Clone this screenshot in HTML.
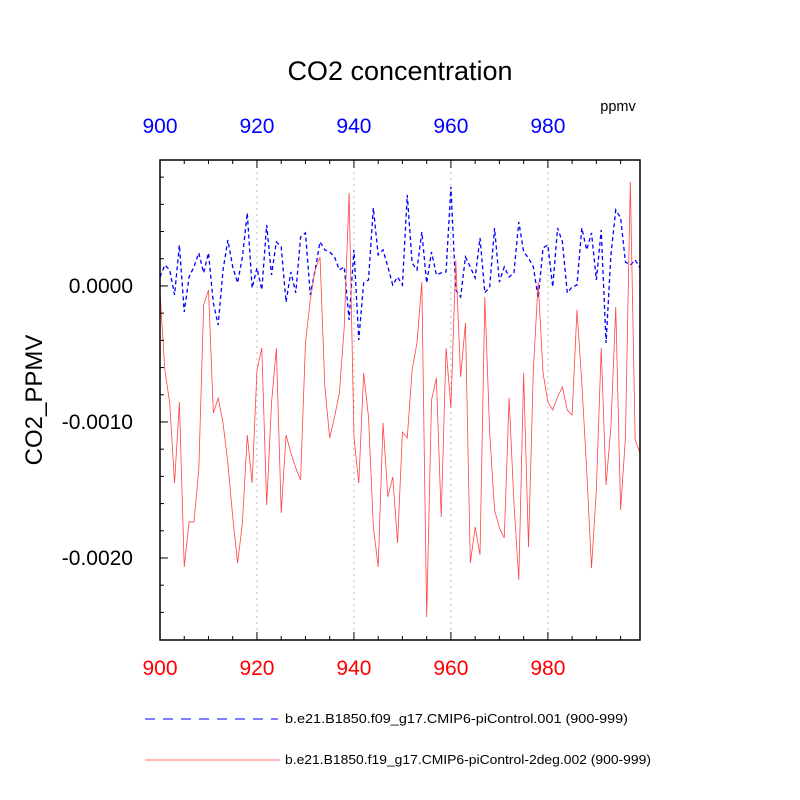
<!DOCTYPE html>
<html><head><meta charset="utf-8"><style>
body{margin:0;background:#fff}
svg{display:block;font-family:"Liberation Sans",sans-serif}
</style></head><body>
<svg id="chart" width="800" height="800">
<text x="400" y="80" text-anchor="middle" font-size="27">CO2 concentration</text>
<text x="618" y="111" text-anchor="middle" font-size="14.5">ppmv</text>
<text transform="translate(42,400) rotate(-90)" text-anchor="middle" font-size="24">CO2_PPMV</text>
<g id="grid"></g><g id="series"></g><g id="axes"></g>
<line x1="145" y1="719" x2="278" y2="719" stroke="#00f" stroke-width="1" stroke-dasharray="10,8"/>
<text x="285" y="723" font-size="13" textLength="343" lengthAdjust="spacingAndGlyphs">b.e21.B1850.f09_g17.CMIP6-piControl.001 (900-999)</text>
<line x1="145" y1="760" x2="280" y2="760" stroke="#f44" stroke-width="0.8"/>
<text x="285" y="764" font-size="13" textLength="366" lengthAdjust="spacingAndGlyphs">b.e21.B1850.f19_g17.CMIP6-piControl-2deg.002 (900-999)</text>
</svg>
<script>
const years=[];for(let i=900;i<=999;i++)years.push(i);
const SCALE=1e-4;
const redValues=[-0.51,-6.18,-8.60,-14.49,-8.53,-20.66,-17.35,-17.35,-13.53,-1.40,-0.29,-9.34,-8.24,-10.07,-13.01,-16.99,-20.37,-17.43,-10.96,-14.49,-6.18,-4.56,-16.10,-8.60,-4.56,-16.69,-10.96,-12.28,-13.38,-14.26,-4.19,-1.03,1.18,2.13,-7.43,-11.18,-9.63,-7.87,-3.01,6.84,-11.10,-14.49,-6.40,-9.63,-17.72,-20.66,-10.07,-15.51,-14.04,-18.90,-10.74,-11.18,-6.18,-4.19,0.29,-24.34,-8.38,-6.76,-16.99,-4.56,-8.97,1.91,-6.69,-2.72,-20.37,-17.72,-19.78,-0.81,-10.81,-16.47,-17.79,-18.53,-8.24,-15.96,-21.62,-6.40,-19.19,-6.18,0.29,-6.40,-8.53,-9.12,-8.16,-7.43,-9.12,-9.49,-1.76,-7.13,-13.53,-20.74,-15.00,-4.56,-14.63,-10.37,-1.54,-16.47,-11.10,7.65,-11.32,-12.28];
const blueValues=[0.66,1.54,1.18,-0.66,3.01,-1.91,0.66,1.40,2.43,0.96,2.43,-1.25,-2.87,1.18,3.38,1.40,0.22,2.13,5.37,-0.15,1.32,-0.29,4.49,0.81,3.24,2.87,-1.18,1.03,-0.51,3.60,3.90,-0.66,1.18,3.24,2.65,2.50,2.13,1.18,1.40,-2.50,2.65,-3.97,0.22,0.44,5.74,2.28,2.65,1.40,0.07,0.66,0.07,6.69,1.69,1.18,3.97,0.22,2.50,0.81,0.96,1.03,7.28,-0.29,-0.81,2.13,1.40,0.59,3.53,-0.51,-0.07,4.26,0.29,1.40,0.66,0.96,4.71,2.50,2.06,1.40,-0.88,2.79,3.01,-0.07,4.26,3.24,-0.51,-0.07,0.07,4.26,2.65,3.90,0.44,4.12,-4.19,2.28,5.59,5.00,1.76,1.54,1.91,1.32];
const xTicks=[900,920,940,960,980];
const yTicks=[0,-0.001,-0.002];
const yTickLabels=["0.0000","-0.0010","-0.0020"];
const X0=160,X1=640,Y0=160,Y1=640,xmin=900,xmax=999,ymin=-0.002603,ymax=0.000926;
const sx=v=>X0+(v-xmin)/(xmax-xmin)*(X1-X0);
const sy=v=>Y1-(v-ymin)/(ymax-ymin)*(Y1-Y0);
const NS="http://www.w3.org/2000/svg";
function mk(tag,parent,attrs){const e=document.createElementNS(NS,tag);for(const k in attrs)e.setAttribute(k,attrs[k]);parent.appendChild(e);return e;}
const grid=document.getElementById('grid'),series=document.getElementById('series'),axes=document.getElementById('axes');
xTicks.slice(1).forEach(t=>{const l=mk('line',grid,{x1:sx(t),x2:sx(t),y1:Y0,y2:Y1,stroke:'#bbb','stroke-width':1,'stroke-dasharray':'2,4'});

});
const bp=mk('polyline',series,{points:years.map((y,i)=>sx(y)+','+sy(blueValues[i]*SCALE)).join(' '),fill:'none',stroke:'#00f','stroke-width':1.3,'stroke-dasharray':'4,3'});


const rp=mk('polyline',series,{points:years.map((y,i)=>sx(y)+','+sy(redValues[i]*SCALE)).join(' '),fill:'none',stroke:'#f44','stroke-width':0.8});


const fr=mk('rect',axes,{x:X0,y:Y0,width:X1-X0,height:Y1-Y0,fill:'none',stroke:'#000','stroke-width':1.5});


for(let t=900;t<=999;t+=5){const maj=t%20===0;const L=maj?8:4;
mk('line',axes,{x1:sx(t),x2:sx(t),y1:Y1,y2:Y1-L,stroke:'#000'});
mk('line',axes,{x1:sx(t),x2:sx(t),y1:Y0,y2:Y0+L,stroke:'#000'});}
for(let v=0.0008;v>=-0.0026;v-=0.0002){const maj=Math.abs(Math.round(v*1e4)%10)===0;const L=maj?8:4;
mk('line',axes,{x1:X0,x2:X0+L,y1:sy(v),y2:sy(v),stroke:'#000'});}
xTicks.forEach(t=>{const a=mk('text',axes,{x:sx(t),y:675,'text-anchor':'middle','font-size':21,fill:'#f00'});a.textContent=t;


const b=mk('text',axes,{x:sx(t),y:133,'text-anchor':'middle','font-size':21,fill:'#00f'});b.textContent=t;

});
yTicks.forEach((v,i)=>{const a=mk('text',axes,{x:133,y:sy(v)+7,'text-anchor':'end','font-size':21});a.textContent=yTickLabels[i];

});
</script>
</body></html>
